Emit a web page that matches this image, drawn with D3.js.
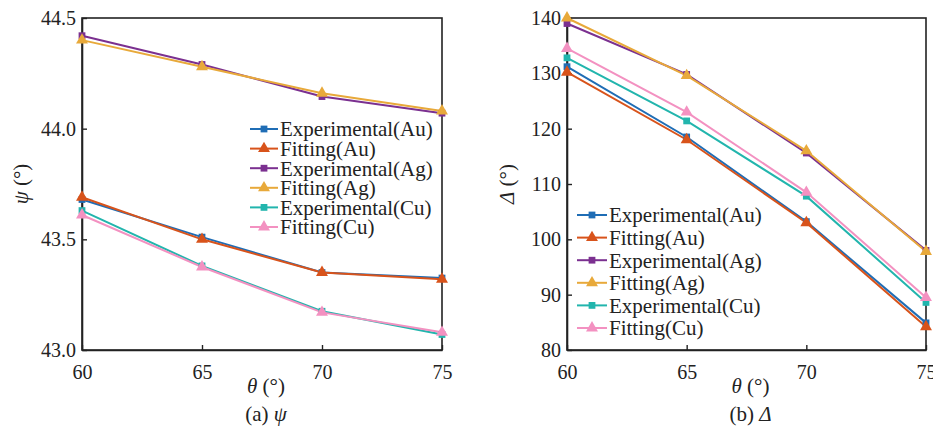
<!DOCTYPE html>
<html>
<head>
<meta charset="utf-8">
<script src="https://cdn.jsdelivr.net/npm/d3@7"></script>
<style>
  body { margin: 0; background: #fff; }
  svg text { font-family: "Liberation Serif", "DejaVu Serif", serif; fill: #222; }
  .domain, .tick line { stroke: #222; }
</style>
</head>
<body>
<div id="chart"></div>
<script>
// angles of incidence
const theta = [60, 65, 70, 75];

// series names and colours
const seriesNames = ["Experimental(Au)", "Fitting(Au)", "Experimental(Ag)", "Fitting(Ag)", "Experimental(Cu)", "Fitting(Cu)"];
const seriesColors = ["#1f6db5", "#d8531b", "#7b3090", "#e8a93a", "#22b5ad", "#f391c1"];
const seriesMarkers = ["square", "triangle", "square", "triangle", "square", "triangle"];

// psi values (deg), panel (a)
const psiExpAu = [43.68, 43.51, 43.35, 43.325];
const psiFitAu = [43.69, 43.50, 43.35, 43.32];
const psiExpAg = [44.42, 44.29, 44.145, 44.07];
const psiFitAg = [44.40, 44.28, 44.16, 44.08];
const psiExpCu = [43.63, 43.38, 43.175, 43.07];
const psiFitCu = [43.61, 43.375, 43.17, 43.08];

// delta values (deg), panel (b)
const delExpAu = [131.2, 118.5, 103.2, 84.9];
const delFitAu = [130.2, 118.0, 103.0, 84.2];
const delExpAg = [139.0, 129.8, 115.6, 98.0];
const delFitAg = [140.0, 129.6, 116.0, 97.8];
const delExpCu = [132.8, 121.4, 107.8, 88.6];
const delFitCu = [134.5, 123.0, 108.5, 89.5];

const xTicks = [60, 65, 70, 75];
const psiTicks = [43.0, 43.5, 44.0, 44.5];
const delTicks = [80, 90, 100, 110, 120, 130, 140];

const FONT = '"Liberation Serif", "DejaVu Serif", serif';

const svg = d3.select("#chart").append("svg")
  .attr("width", 933).attr("height", 428);

function panel(opts) {
  const { left, right, top, bottom, yDomain, yTicks, yFmt, series, yTitle, caption, legend } = opts;
  const x = d3.scaleLinear().domain([60, 75]).range([left, right]);
  const y = d3.scaleLinear().domain(yDomain).range([bottom, top]);
  const g = svg.append("g");

  // frame
  g.append("rect")
    .attr("x", left).attr("y", top)
    .attr("width", right - left).attr("height", bottom - top)
    .attr("fill", "none").attr("stroke", "#222").attr("stroke-width", 1.6);

  const xAxis = g.append("g")
    .attr("transform", `translate(0,${bottom})`)
    .call(d3.axisBottom(x).tickValues(xTicks).tickSizeInner(-5).tickSizeOuter(0).tickPadding(10));
  const yAxis = g.append("g")
    .attr("transform", `translate(${left},0)`)
    .call(d3.axisLeft(y).tickValues(yTicks).tickFormat(yFmt).tickSizeInner(-5).tickSizeOuter(0).tickPadding(6));
  [xAxis, yAxis].forEach(a => {
    a.attr("font-family", FONT);
    a.selectAll("text").style("font-size", "20px").attr("fill", "#222");
    a.selectAll(".domain").attr("stroke-width", 1.6);
    a.selectAll(".tick line").attr("stroke-width", 1.4);
  });
  xAxis.selectAll("text").attr("dy", "0.95em");

  const line = d3.line().x((d, i) => x(theta[i])).y(d => y(d));
  const sq = d3.symbol().type(d3.symbolSquare).size(46);
  const tri = d3.symbol().type(d3.symbolTriangle).size(62);

  series.forEach((vals, k) => {
    g.append("path").datum(vals)
      .attr("d", line).attr("fill", "none")
      .attr("stroke", seriesColors[k]).attr("stroke-width", 2);
  });
  series.forEach((vals, k) => {
    g.selectAll(null).data(vals).enter().append("path")
      .attr("d", seriesMarkers[k] === "square" ? sq : tri)
      .attr("transform", (d, i) => `translate(${x(theta[i])},${y(d)})`)
      .attr("fill", seriesColors[k]);
  });

  // legend
  seriesNames.forEach((name, k) => {
    const ly = legend.y + k * legend.dy;
    g.append("line")
      .attr("x1", legend.x).attr("x2", legend.x + legend.w)
      .attr("y1", ly).attr("y2", ly)
      .attr("stroke", seriesColors[k]).attr("stroke-width", 2);
    g.append("path")
      .attr("d", seriesMarkers[k] === "square" ? sq : tri)
      .attr("transform", `translate(${legend.x + legend.w / 2},${ly})`)
      .attr("fill", seriesColors[k]);
    g.append("text")
      .attr("x", legend.x + legend.w + 2).attr("y", ly)
      .attr("dy", "0.35em")
      .style("font-size", legend.fs + "px")
      .text(name);
  });

  const cx = (left + right) / 2;
  // x title
  const xt = g.append("text").attr("x", cx + 4).attr("y", 393)
    .attr("text-anchor", "middle").style("font-size", "21px");
  xt.append("tspan").style("font-style", "italic").text("θ");
  xt.append("tspan").text(" (°)");

  // y title
  const yt = g.append("text")
    .attr("transform", `translate(${opts.yTitleX},${(top + bottom) / 2}) rotate(-90)`)
    .attr("text-anchor", "middle").style("font-size", "21px");
  yt.append("tspan").style("font-style", "italic").text(yTitle);
  yt.append("tspan").text(" (°)");

  // caption
  const ct = g.append("text").attr("x", cx + 4).attr("y", 421)
    .attr("text-anchor", "middle").style("font-size", "21px");
  ct.append("tspan").text(caption + " ");
  ct.append("tspan").style("font-style", "italic").text(yTitle);
}

panel({
  left: 82, right: 442, top: 18, bottom: 350,
  yDomain: [43.0, 44.5], yTicks: psiTicks, yFmt: d3.format(".1f"),
  series: [psiExpAu, psiFitAu, psiExpAg, psiFitAg, psiExpCu, psiFitCu],
  yTitle: "ψ", yTitleX: 28, caption: "(a)",
  legend: { x: 250, y: 129, dy: 19.6, w: 28, fs: 21 }
});

panel({
  left: 567, right: 926, top: 18, bottom: 350,
  yDomain: [80, 140], yTicks: delTicks, yFmt: d3.format("d"),
  series: [delExpAu, delFitAu, delExpAg, delFitAg, delExpCu, delFitCu],
  yTitle: "Δ", yTitleX: 514, caption: "(b)",
  legend: { x: 577, y: 215, dy: 22.6, w: 30, fs: 21 }
});
</script>
</body>
</html>
